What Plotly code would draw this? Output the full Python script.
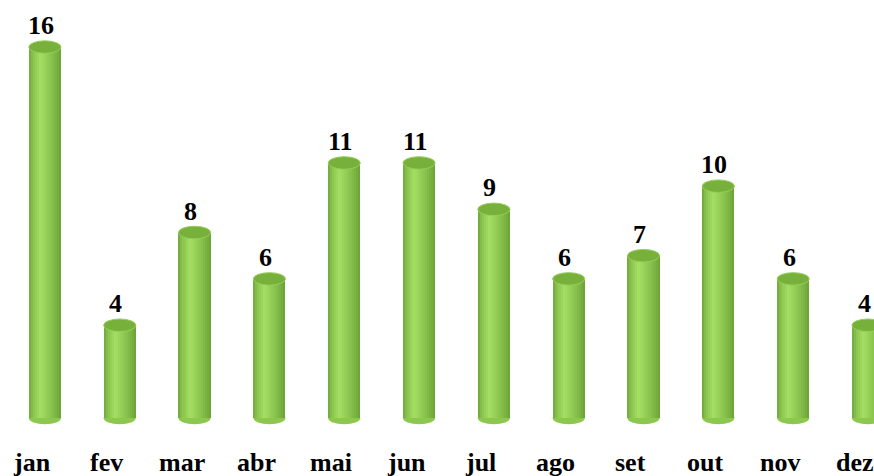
import plotly.graph_objects as go

months = ["jan", "fev", "mar", "abr", "mai", "jun", "jul", "ago", "set", "out", "nov", "dez"]
values = [16, 4, 8, 6, 11, 11, 9, 6, 7, 10, 6, 4]

FONT = "Liberation Serif"
BAR_W = 0.43          # bar width in category units
CAP_H = 0.27          # half-height of the elliptical caps in value units
N_STRIPS = 16

x_idx = list(range(len(months)))


def shade(t):
    # horizontal cylinder shading: dark edges, highlight left of centre
    dark = (104, 160, 52)
    light = (164, 222, 98)
    peak = 0.35
    if t < peak:
        f = (t / peak) ** 0.6
    else:
        f = ((1 - t) / (1 - peak)) ** 0.8
    f = max(0.0, min(1.0, f))
    c = [round(d + (l - d) * f) for d, l in zip(dark, light)]
    return f"rgb({c[0]},{c[1]},{c[2]})"


fig = go.Figure()

shapes = []
for i, v in zip(x_idx, values):
    shapes.append(dict(type="circle", xref="x", yref="y", layer="below",
                       x0=i - BAR_W / 2, x1=i + BAR_W / 2, y0=-CAP_H, y1=CAP_H,
                       fillcolor="rgb(140,200,78)", line=dict(width=0)))

dw = BAR_W / N_STRIPS
for k in range(N_STRIPS):
    t = (k + 0.5) / N_STRIPS
    off = -BAR_W / 2 + k * dw
    fig.add_trace(go.Bar(
        x=x_idx, y=values, width=BAR_W / 2 - off, offset=off,
        marker=dict(color=shade(t), line=dict(width=0)),
        hoverinfo="skip", showlegend=False))

for i, v in zip(x_idx, values):
    shapes.append(dict(type="circle", xref="x", yref="y", layer="above",
                       x0=i - BAR_W / 2, x1=i + BAR_W / 2, y0=v - CAP_H, y1=v + CAP_H,
                       fillcolor="rgb(120,176,60)",
                       line=dict(width=1, color="rgb(150,206,90)")))

annotations = []
for i, v in zip(x_idx, values):
    annotations.append(dict(x=i, y=v, xref="x", yref="y", text=f"<b>{v}</b>",
                            showarrow=False, yanchor="bottom", yshift=5, xshift=-4,
                            font=dict(family=FONT, size=26, color="black")))
for i, m in zip(x_idx, months):
    annotations.append(dict(x=i, y=0, xref="x", yref="paper", text=f"<b>{m}</b>",
                            showarrow=False, yanchor="middle", yshift=-36, xshift=-13,
                            font=dict(family=FONT, size=26, color="black")))

fig.update_layout(
    width=874, height=476,
    margin=dict(l=0, r=0, t=0, b=50),
    paper_bgcolor="white", plot_bgcolor="white",
    barmode="overlay", bargap=0,
    shapes=shapes, annotations=annotations,
    xaxis=dict(range=[-0.6, 11.08], showticklabels=False,
               showgrid=False, zeroline=False, showline=False, ticks=""),
    yaxis=dict(range=[-0.345, 18.03], visible=False, showgrid=False, zeroline=False),
)

fig.write_html("out.html")
